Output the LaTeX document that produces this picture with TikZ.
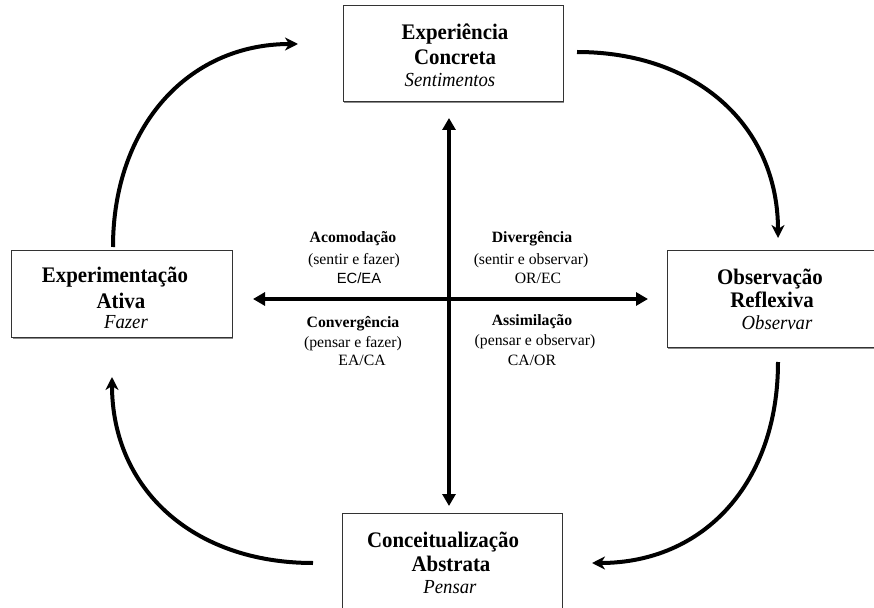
\documentclass[tikz,border=0pt]{standalone}
\usepackage{fontspec}
\setmainfont{Liberation Serif}
\newfontfamily\narrowf[FakeStretch=0.94]{Liberation Serif}
\newfontfamily\sansf{Liberation Sans}
\usetikzlibrary{arrows.meta,shadows}
\tikzset{
  box/.style={draw=black!80, line width=1bp, fill=white, rectangle, inner sep=0pt,
    drop shadow={shadow xshift=1bp, shadow yshift=-1.5bp, fill=black!45, opacity=1}},
  bt/.style={font=\narrowf\fontsize{22.3}{24}\selectfont\bfseries, anchor=base, inner sep=0pt},
  it/.style={font=\narrowf\fontsize{20}{22}\selectfont\itshape, anchor=base, inner sep=0pt},
  cb/.style={font=\fontsize{15.8}{18}\selectfont\bfseries, anchor=base, inner sep=0pt},
  cn/.style={font=\fontsize{15.8}{18}\selectfont, anchor=base, inner sep=0pt},
  cs/.style={font=\fontsize{14.8}{18}\selectfont\sansf, anchor=base, inner sep=0pt},
  axis/.style={line width=4.5bp, {Triangle[length=12bp,width=13bp]}-{Triangle[length=12bp,width=13bp]}},
  cyc/.style={line width=4bp, -{Stealth[length=13bp,width=13bp,inset=4bp]}}
}
\begin{document}
\begin{tikzpicture}[x=1bp,y=-1bp]
\clip (0,0) rectangle (874,608);
\fill[white] (0,0) rectangle (874,608);

% boxes
\node[box, minimum width=220bp, minimum height=96bp] (ec) at (453,54) {};
\node[box, minimum width=220bp, minimum height=86bp] (ea) at (122,294) {};
\node[box, minimum width=214bp, minimum height=96bp] (or) at (774,299) {};
\node[box, minimum width=220bp, minimum height=110bp] (ca) at (452,568) {};

% box texts
\node[bt] (ec1) at (455,40) {Experiência};
\node[bt] (ec2) at (455,65) {Concreta};
\node[it] (ec3) at (450,87) {Sentimentos};

\node[bt] (ea1) at (115,282) {Experimentação};
\node[bt] (ea2) at (121,308) {Ativa};
\node[it] (ea3) at (126,328) {Fazer};

\node[bt] (or1) at (770,284) {Observação};
\node[bt] (or2) at (772,307) {Reflexiva};
\node[it] (or3) at (777,329) {Observar};

\node[bt] (ca1) at (443,547) {Conceitualização};
\node[bt] (ca2) at (451,571) {Abstrata};
\node[it] (ca3) at (450,593) {Pensar};

% axes
\coordinate (vt) at (449,118);
\coordinate (vb) at (449,506);
\coordinate (hl) at (253,299);
\coordinate (hr) at (648,299);
\draw[axis] (vt) -- (vb);
\draw[axis] (hl) -- (hr);

% quadrant labels
\node[cb] (q1a) at (353,243) {Acomodação};
\node[cn] (q1b) at (354,264) {(sentir e fazer)};
\node[cs] (q1c) at (359,283) {EC/EA};

\node[cb] (q2a) at (532,243) {Divergência};
\node[cn] (q2b) at (531,264) {(sentir e observar)};
\node[cn] (q2c) at (538,283) {OR/EC};

\node[cb] (q3a) at (353,327) {Convergência};
\node[cn] (q3b) at (353,347) {(pensar e fazer)};
\node[cn] (q3c) at (362,365) {EA/CA};

\node[cb] (q4a) at (532,325) {Assimilação};
\node[cn] (q4b) at (535,345) {(pensar e observar)};
\node[cn] (q4c) at (532,365) {CA/OR};

% cycle arrows
\coordinate (a1s) at (113,247);
\coordinate (a1e) at (298,44);
\coordinate (a2s) at (577,52);
\coordinate (a2e) at (778,238);
\coordinate (a3s) at (778,362);
\coordinate (a3e) at (592,563);
\coordinate (a4s) at (313,563);
\coordinate (a4e) at (112,377);
\draw[cyc] (a1s) .. controls (113,128) and (187,44) .. (a1e);
\draw[cyc] (a2s) .. controls (697,52) and (778,126) .. (a2e);
\draw[cyc] (a3s) .. controls (778,483) and (704,563) .. (a3e);
\draw[cyc] (a4s) .. controls (193,563) and (112,489) .. (a4e);
\end{tikzpicture}
\end{document}
